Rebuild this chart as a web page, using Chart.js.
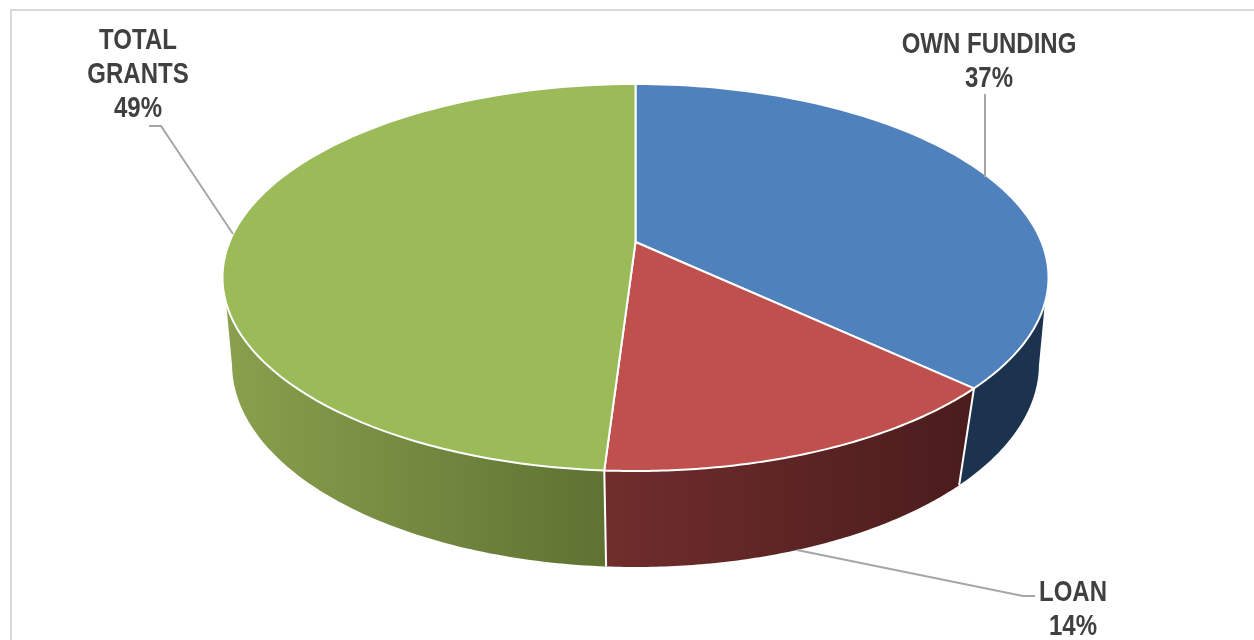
<!DOCTYPE html>
<html>
<head>
<meta charset="utf-8">
<title>Funding sources</title>
<script src="https://cdn.jsdelivr.net/npm/chart.js@4"></script>
<style>
	body { margin: 0; background: #fff; overflow: hidden; }
	#frame { position: absolute; left: 10px; top: 9px; width: 1244px; height: 631px; border-left: 2px solid #d9d9d9; border-top: 2px solid #d9d9d9; }
	#chart { position: absolute; left: 0; top: 0; }
</style>
</head>
<body>
<div id="frame"></div>
<canvas id="chart" width="1254" height="640"></canvas>
<script>
// chart data
const categories = [['OWN FUNDING'], ['LOAN'], ['TOTAL', 'GRANTS']];
const shares = [37, 14, 49];
const topColors = ['#4f81bd', '#c0504d', '#9bbb59'];
const sideLeftColors = ['#1c334f', '#702d2c', '#89a04d'];
const sideRightColors = ['#1c334f', '#4a1c1c', '#5e7232'];

// perspective of the disc: top rim and bottom rim
const centerX = 635.5;
const topRim = { y: 242, rx: 406, ry: 187, p: -0.1835, limit: 18 * Math.PI / 180 };
const bottomRim = { y: 334, rx: 399, ry: 198.5, p: -0.148, limit: 9 * Math.PI / 180 };

// label anchors and leader lines
const labelFont = 'bold 30px "Liberation Sans", Arial, sans-serif';
const labelNarrow = 0.8; // no narrow face installed, squeeze the regular bold instead
const labelSpots = [{ x: 989, y: 45 }, { x: 1073, y: 593 }, { x: 138, y: 41 }];
const leaderPaths = [
	[[985, 94], [985, 177]],
	[[797, 550], [1023, 596], [1035, 596]],
	[[149, 126], [161, 126], [233, 234]]
];

const project = function(rim, angle) {
	const u = Math.cos(angle);
	const v = Math.sin(angle);
	const d = 1 + rim.p * v;
	return [centerX + rim.rx * u / d, rim.y + rim.ry * v / d];
};

const traceRim = function(ctx, rim, from, to) {
	const steps = 90;
	for (let s = 0; s <= steps; s++) {
		const p = project(rim, from + (to - from) * s / steps);
		ctx.lineTo(p[0], p[1]);
	}
};

const drawWall = function(ctx, i, a1, a2) {
	const topFrom = Math.max(a1, topRim.limit);
	const topTo = Math.min(a2, Math.PI - topRim.limit);
	if (topFrom >= topTo) return;
	const botFrom = Math.max(a1, bottomRim.limit);
	const botTo = Math.min(a2, Math.PI - bottomRim.limit);
	const xs = [project(topRim, topFrom)[0], project(topRim, topTo)[0]];
	const grad = ctx.createLinearGradient(Math.min(xs[0], xs[1]), 0, Math.max(xs[0], xs[1]), 0);
	grad.addColorStop(0, sideLeftColors[i]);
	grad.addColorStop(1, sideRightColors[i]);
	ctx.beginPath();
	traceRim(ctx, topRim, topFrom, topTo);
	traceRim(ctx, bottomRim, botTo, botFrom);
	ctx.closePath();
	ctx.fillStyle = grad;
	ctx.fill();
};

const pie3d = {
	id: 'pie3d',
	// the library works out the slice angles, the drawing is done here
	beforeDatasetDraw(chart) {
		const ctx = chart.ctx;
		const arcs = chart.getDatasetMeta(0).data;
		ctx.save();
		arcs.forEach((arc, i) => drawWall(ctx, i, arc.startAngle, arc.endAngle));

		// white seams on the front wall
		ctx.strokeStyle = '#fff';
		ctx.lineWidth = 2;
		arcs.forEach((arc) => {
			const a = arc.endAngle;
			if (a > topRim.limit && a < Math.PI - topRim.limit) {
				const t = project(topRim, a);
				const b = project(bottomRim, a);
				ctx.beginPath();
				ctx.moveTo(t[0], t[1]);
				ctx.lineTo(b[0], b[1]);
				ctx.stroke();
			}
		});

		arcs.forEach((arc, i) => {
			ctx.beginPath();
			ctx.moveTo(centerX, topRim.y);
			traceRim(ctx, topRim, arc.startAngle, arc.endAngle);
			ctx.closePath();
			ctx.fillStyle = topColors[i];
			ctx.fill();
			ctx.lineJoin = 'round';
			ctx.strokeStyle = '#fff';
			ctx.lineWidth = 2;
			ctx.stroke();
		});
		ctx.restore();
		return false;
	},
	afterDatasetsDraw(chart) {
		const ctx = chart.ctx;
		ctx.save();
		ctx.strokeStyle = '#a6a6a6';
		ctx.lineWidth = 2;
		leaderPaths.forEach((path) => {
			ctx.beginPath();
			path.forEach((p) => ctx.lineTo(p[0], p[1]));
			ctx.stroke();
		});
		ctx.font = labelFont;
		ctx.fillStyle = '#404040';
		ctx.textAlign = 'center';
		ctx.textBaseline = 'middle';
		chart.data.labels.forEach((lines, i) => {
			const rows = lines.concat(shares[i] + '%');
			rows.forEach((row, r) => {
				ctx.save();
				ctx.translate(labelSpots[i].x, labelSpots[i].y + r * 34);
				ctx.scale(labelNarrow, 1);
				ctx.fillText(row, 0, 0);
				ctx.restore();
			});
		});
		ctx.restore();
	}
};

new Chart(document.getElementById('chart'), {
	type: 'pie',
	data: {
		labels: categories,
		datasets: [{ data: shares, backgroundColor: topColors }]
	},
	options: {
		responsive: false,
		animation: false,
		plugins: { legend: { display: false }, tooltip: { enabled: false } }
	},
	plugins: [pie3d]
});
</script>
</body>
</html>
